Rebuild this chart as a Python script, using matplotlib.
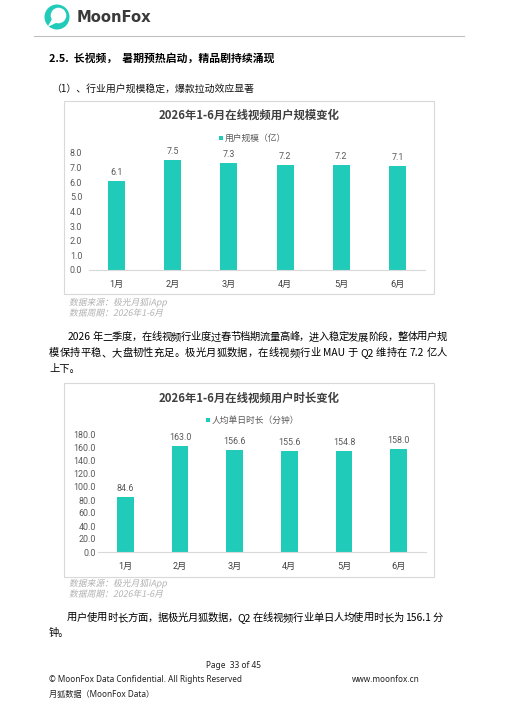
import re
import matplotlib
matplotlib.use("Agg")
import matplotlib.pyplot as plt
from matplotlib.patches import Rectangle, Circle, Polygon, PathPatch
from matplotlib.textpath import TextPath
from matplotlib.font_manager import FontProperties
from matplotlib.transforms import Affine2D

plt.rcParams['font.family'] = ['Noto Sans CJK SC', 'DejaVu Sans']

# data
months = ['1月', '2月', '3月', '4月', '5月', '6月']
users = [6.1, 7.5, 7.3, 7.2, 7.2, 7.1]          # 用户规模（亿）
minutes = [84.6, 163.0, 156.6, 155.6, 154.8, 158.0]  # 人均单日时长（分钟）
user_ticks = [0, 1, 2, 3, 4, 5, 6, 7, 8]
minute_ticks = [0, 20, 40, 60, 80, 100, 120, 140, 160, 180]

TEAL = '#21CBB9'
W, H = 507, 721
NUM = ['Roboto', 'Noto Sans CJK SC']

fig = plt.figure(figsize=(W / 100, H / 100), dpi=100)
bg = fig.add_axes([0, 0, 1, 1])
bg.set_xlim(0, W)
bg.set_ylim(H, 0)
bg.axis('off')

# header: logo + rule
bg.add_patch(Circle((57, 17), 12.5, color=TEAL, lw=0))
bg.add_patch(Circle((58.5, 15.5), 7.8, color='white', lw=0))
bg.add_patch(Polygon([(52, 19), (47.5, 27), (57, 22.5)], closed=True, color='white', lw=0))
bg.text(77, 17, 'MoonFox', fontsize=10.6, fontweight='bold', color='#3a3a3a',
        va='center', ha='left', family=['DejaVu Sans'])
bg.plot([34, 464], [36, 36], color='#c0c0c0', lw=0.8)

bg.text(49, 58, '2.5.  长视频，  暑期预热启动，精品剧持续涌现', fontsize=7.8,
        fontweight='heavy', color='black', va='center')
bg.text(51, 89, '（1）、行业用户规模稳定，爆款拉动效应显著', fontsize=7.1,
        color='#111111', va='center')


def justify(y, x0, x1, s, **kw):
    toks = re.findall(r'[A-Za-z0-9.]+| |.', s)
    arts = [bg.text(0, y, t, va='center', ha='left', **kw) for t in toks]
    r = fig.canvas.get_renderer()
    ws = [a.get_window_extent(r).width if t != ' ' else 2 for a, t in zip(arts, toks)]
    gap = (x1 - x0 - sum(ws)) / (len(toks) - 1)
    x = x0
    for a, w in zip(arts, ws):
        a.set_x(x)
        x += w + gap


def slanted(x, y, s, px, color):
    # CJK fonts have no italic, so shear the glyph outlines instead
    tp = TextPath((0, 0), s, size=px, prop=FontProperties(family='Noto Sans CJK SC'))
    tr = Affine2D().skew_deg(12, 0).scale(1, -1).translate(x, y + px * 0.38) + bg.transData
    bg.add_patch(PathPatch(tp, transform=tr, color=color, lw=0))


para = dict(fontsize=7.4, color='black', fontweight='medium')
justify(337, 68, 447, '2026 年二季度，在线视频行业度过春节档期流量高峰，进入稳定发展阶段，整体用户规', **para)
justify(353, 49, 447, '模保持平稳、大盘韧性充足。极光月狐数据，在线视频行业 MAU 于 Q2 维持在 7.2 亿人', **para)
bg.text(49, 369, '上下。', va='center', **para)
justify(618, 67, 443, '用户使用时长方面，据极光月狐数据，Q2 在线视频行业单日人均使用时长为 156.1 分', **para)
bg.text(49, 633, '钟。', va='center', **para)


def chart(box, title, title_y, leg, leg_x, leg_y, ax_px, vals, ticks, src_y, ypad):
    x0, y0, x1, y1 = box
    bg.add_patch(Rectangle((x0, y0), x1 - x0, y1 - y0, fill=False, ec='#d9d9d9', lw=0.8))
    bg.text((x0 + x1) / 2, title_y, title, fontsize=8.2, fontweight='bold',
            color='#404040', ha='center', va='center')
    bg.add_patch(Rectangle((leg_x, leg_y - 2.2), 4.4, 4.4, color=TEAL, lw=0))
    bg.text(leg_x + 6.5, leg_y, leg, fontsize=6.3, color='#595959', va='center')
    slanted(69, src_y, '数据来源：极光月狐iApp', 8.8, '#b0b0b0')
    slanted(69, src_y + 10.5, '数据周期：2026年1-6月', 8.8, '#b0b0b0')

    l, r, t, b = ax_px
    ax = fig.add_axes([l / W, (H - b) / H, (r - l) / W, (b - t) / H])
    ax.patch.set_alpha(0)
    bars = ax.bar(months, vals, width=0.3, color=TEAL)
    ax.bar_label(bars, labels=['{:.1f}'.format(v) for v in vals], padding=3,
                 fontsize=6.4, color='#595959', family=NUM)
    ax.set_xlim(-0.5, len(months) - 0.5)
    ax.set_ylim(ticks[0], ticks[-1])
    ax.set_yticks(ticks)
    ax.set_yticklabels(['{:.1f}'.format(v) for v in ticks], family=NUM)
    ax.set_xticks(range(len(months)))
    ax.set_xticklabels(months, family=NUM)
    for s in ['top', 'right', 'left']:
        ax.spines[s].set_visible(False)
    ax.spines['bottom'].set_color('#d9d9d9')
    ax.spines['bottom'].set_linewidth(0.8)
    ax.tick_params(axis='both', length=0)
    ax.tick_params(axis='y', labelsize=6.4, labelcolor='#595959', pad=ypad)
    ax.tick_params(axis='x', labelsize=6.6, labelcolor='#404040', pad=7)
    return ax


chart((64, 101, 434, 294), '2026年1-6月在线视频用户规模变化', 115,
      '用户规模（亿）', 218.5, 138, (88.5, 425.5, 153, 270),
      users, user_ticks, 302, 4.5)

chart((64, 383, 434, 577), '2026年1-6月在线视频用户时长变化', 398,
      '人均单日时长（分钟）', 205.5, 420, (98, 426, 435, 552),
      minutes, minute_ticks, 583, 1.5)

# footer
ft = ['Noto Sans', 'Noto Sans CJK SC']
bg.text(233, 666, 'Page  33 of 45', fontsize=6, color='#222222', ha='center',
        va='center', family=ft)
bg.text(49, 680, '© MoonFox Data Confidential. All Rights Reserved', fontsize=5.9,
        color='#222222', va='center', family=ft)
bg.text(352, 680, 'www.moonfox.cn', fontsize=5.9, color='#222222', va='center', family=ft)
bg.text(49, 694, '月狐数据（MoonFox Data）', fontsize=5.9, color='#222222',
        va='center', family=ft)

fig.savefig('out.png', dpi=100)
